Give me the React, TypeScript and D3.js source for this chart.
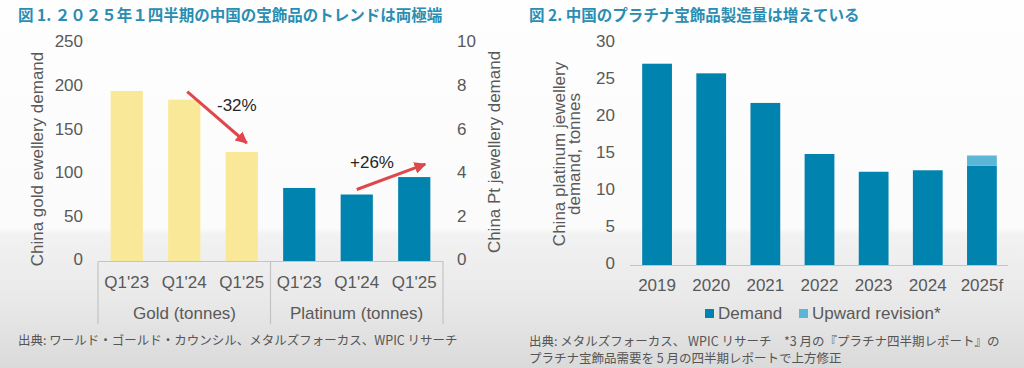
import React from "react";
import * as d3 from "d3";

// Figure 1 data
const quarters = ["Q1'23", "Q1'24", "Q1'25"];
const goldDemand = [195, 185, 125];
const platinumDemand = [3.35, 3.05, 3.85];
const groupLabels = ["Gold (tonnes)", "Platinum (tonnes)"];
const goldTicks = [0, 50, 100, 150, 200, 250];
const ptTicks = [0, 2, 4, 6, 8, 10];

// Figure 2 data
const years = ["2019", "2020", "2021", "2022", "2023", "2024", "2025f"];
const demand = [27.2, 25.9, 21.9, 15.0, 12.6, 12.8, 13.4];
const upwardRevision = [0, 0, 0, 0, 0, 0, 1.4];
const rightTicks = [0, 5, 10, 15, 20, 25, 30];

const W = 1024;
const H = 368;
const FONT = "'Liberation Sans', Arial, 'Noto Sans CJK JP', sans-serif";
const JP = "'Noto Sans CJK JP', 'Liberation Sans', sans-serif";
const TEAL = "#0083ae";
const GOLD = "#f9e898";
const LIGHT = "#5cb6d6";
const TXT = "#595959";
const RED = "#e0474c";
const TITLE = "#2a8db2";

export default function App() {
  // left chart scales
  const keys = [...quarters.map((q) => "g" + q), ...quarters.map((q) => "p" + q)];
  const xL = d3.scaleBand().domain(keys).range([98, 443]).paddingInner(0.44).paddingOuter(0.22);
  const yGold = d3.scaleLinear().domain([0, 250]).range([261, 43]);
  const yPt = d3.scaleLinear().domain([0, 10]).range([261, 43]);

  // right chart scales
  const xR = d3.scaleBand().domain(years).range([630, 1009]).paddingInner(0.45).paddingOuter(0.225);
  const yR = d3.scaleLinear().domain([0, 30]).range([265, 43]);

  const goldX = (i: number) => xL("g" + quarters[i])! + xL.bandwidth() / 2;
  const ptX = (i: number) => xL("p" + quarters[i])! + xL.bandwidth() / 2;

  return (
    <svg
      width={W}
      height={H}
      style={{ position: "absolute", left: 0, top: 0, fontFamily: FONT }}
    >
      <defs>
        <linearGradient id="bg" x1="0" y1="0" x2="0" y2="1">
          <stop offset="0" stopColor="#fefefe" />
          <stop offset={228 / H} stopColor="#fbfbfb" />
          <stop offset={234 / H} stopColor="#f2f2f2" />
          <stop offset={300 / H} stopColor="#e9e9e9" />
          <stop offset="1" stopColor="#dadada" />
        </linearGradient>
        <marker id="arr" viewBox="0 0 10 10" refX="9" refY="5" markerWidth="4" markerHeight="4" orient="auto">
          <path d="M0,0 L10,5 L0,10 z" fill={RED} />
        </marker>
      </defs>
      <rect width={W} height={H} fill="url(#bg)" />

      {/* titles */}
      <text x={18} y={21} fontFamily={JP} fontSize={15.5} fontWeight="bold" fill={TITLE}>
        図 1. ２０２５年１四半期の中国の宝飾品のトレンドは両極端
      </text>
      <text x={529} y={21} fontFamily={JP} fontSize={15.5} fontWeight="bold" fill={TITLE}>
        図 2. 中国のプラチナ宝飾品製造量は増えている
      </text>

      {/* ---------- left chart ---------- */}
      {goldTicks.map((t) => (
        <text key={"gt" + t} x={83} y={yGold(t)} textAnchor="end" dominantBaseline="middle" fontSize={17} fill={TXT}>
          {t}
        </text>
      ))}
      {ptTicks.map((t) => (
        <text key={"pt" + t} x={457} y={yPt(t)} textAnchor="start" dominantBaseline="middle" fontSize={17} fill={TXT}>
          {t}
        </text>
      ))}
      <text transform="translate(39,159) rotate(-90)" textAnchor="middle" dominantBaseline="middle" fontSize={17} fill={TXT}>
        China gold ewellery demand
      </text>
      <text transform="translate(496,152) rotate(-90)" textAnchor="middle" dominantBaseline="middle" fontSize={17} fill={TXT}>
        China Pt jewellery demand
      </text>

      {goldDemand.map((v, i) => (
        <rect key={"gb" + i} x={xL("g" + quarters[i])} y={yGold(v)} width={xL.bandwidth()} height={yGold(0) - yGold(v)} fill={GOLD} />
      ))}
      {platinumDemand.map((v, i) => (
        <rect key={"pb" + i} x={xL("p" + quarters[i])} y={yPt(v)} width={xL.bandwidth()} height={yPt(0) - yPt(v)} fill={TEAL} />
      ))}

      {/* category axis box */}
      <g stroke="#c4c4c4" strokeWidth={1.2}>
        <line x1={98} x2={443} y1={261.5} y2={261.5} />
        <line x1={98} x2={98} y1={261.5} y2={324} />
        <line x1={270.5} x2={270.5} y1={261.5} y2={324} />
        <line x1={443} x2={443} y1={261.5} y2={324} />
      </g>
      {keys.map((k, i) => (
        <text key={"cl" + k} x={xL(k)! + xL.bandwidth() / 2} y={288} textAnchor="middle" fontSize={17} fill={TXT}>
          {quarters[i % 3]}
        </text>
      ))}
      {groupLabels.map((g, i) => (
        <text key={"gl" + g} x={i === 0 ? 184.5 : 356.5} y={319} textAnchor="middle" fontSize={17} fill={TXT}>
          {g}
        </text>
      ))}

      {/* annotations */}
      <line x1={goldX(1) + 3} y1={yGold(goldDemand[1]) - 8} x2={goldX(2) + 5} y2={yGold(goldDemand[2]) - 9} stroke={RED} strokeWidth={3} markerEnd="url(#arr)" />
      <text x={217} y={111} fontSize={17} fill="#262626">-32%</text>
      <line x1={ptX(1)} y1={yPt(platinumDemand[1]) - 5} x2={ptX(2) + 11} y2={yPt(platinumDemand[2]) - 13} stroke={RED} strokeWidth={3} markerEnd="url(#arr)" />
      <text x={350} y={168} fontSize={17} fill="#262626">+26%</text>

      <text x={18} y={345} fontFamily={JP} fontSize={12.5} fill="#555">
        出典: ワールド・ゴールド・カウンシル、メタルズフォーカス、WPIC リサーチ
      </text>

      {/* ---------- right chart ---------- */}
      {rightTicks.map((t) => (
        <text key={"rt" + t} x={615} y={yR(t)} textAnchor="end" dominantBaseline="middle" fontSize={17} fill={TXT}>
          {t}
        </text>
      ))}
      <text transform="translate(561,154) rotate(-90)" textAnchor="middle" dominantBaseline="middle" fontSize={17} fill={TXT}>
        China platinum jewellery
      </text>
      <text transform="translate(576,154) rotate(-90)" textAnchor="middle" dominantBaseline="middle" fontSize={17} fill={TXT}>
        demand, tonnes
      </text>
      {demand.map((v, i) => (
        <rect key={"db" + i} x={xR(years[i])} y={yR(v)} width={xR.bandwidth()} height={yR(0) - yR(v)} fill={TEAL} />
      ))}
      {upwardRevision.map((v, i) =>
        v > 0 ? (
          <rect key={"ub" + i} x={xR(years[i])} y={yR(demand[i] + v)} width={xR.bandwidth()} height={yR(demand[i]) - yR(demand[i] + v)} fill={LIGHT} />
        ) : null
      )}
      <line x1={630} x2={1008} y1={265.5} y2={265.5} stroke="#c4c4c4" strokeWidth={1.2} />
      {years.map((y) => (
        <text key={"yl" + y} x={xR(y)! + xR.bandwidth() / 2} y={291} textAnchor="middle" fontSize={17} fill={TXT}>
          {y}
        </text>
      ))}

      {/* legend */}
      <rect x={705} y={309} width={9} height={9} fill={TEAL} />
      <text x={718} y={319} fontSize={17} fill={TXT}>Demand</text>
      <rect x={799} y={309} width={9} height={9} fill={LIGHT} />
      <text x={812} y={319} fontSize={17} fill={TXT}>Upward revision*</text>

      <text x={529} y={346} fontFamily={JP} fontSize={12.5} fill="#555">
        出典: メタルズフォーカス、 WPIC リサーチ　*3 月の『プラチナ四半期レポート』の
      </text>
      <text x={529} y={363} fontFamily={JP} fontSize={12.5} fill="#555">
        プラチナ宝飾品需要を 5 月の四半期レポートで上方修正
      </text>
    </svg>
  );
}
